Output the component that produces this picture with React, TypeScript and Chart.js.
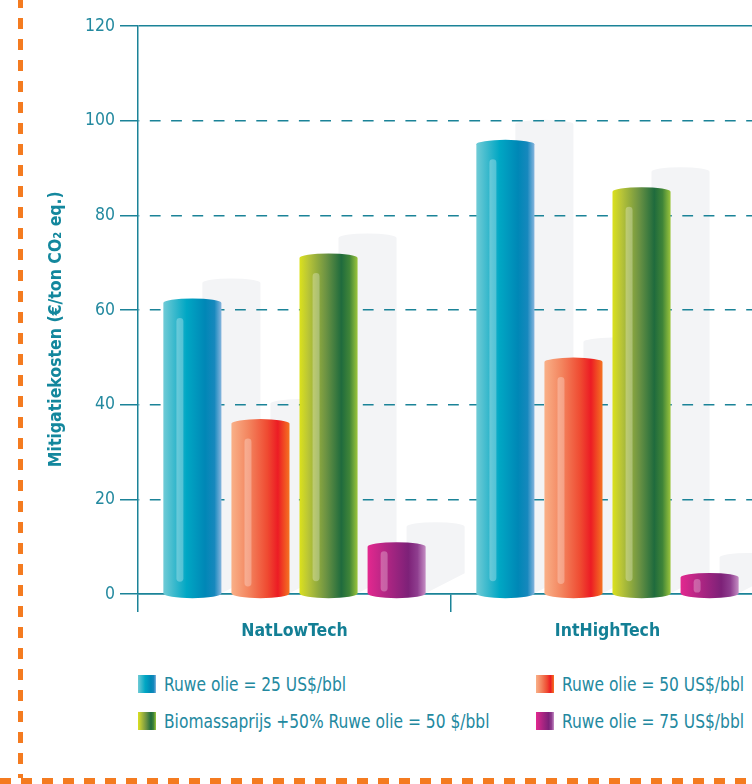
import React, { useEffect, useRef } from 'react';
import { Chart, registerables } from 'chart.js';

Chart.register(...registerables);

// ---------- data ----------
const categories = ['NatLowTech', 'IntHighTech'];
const seriesNames = [
  'Ruwe olie = 25 US$/bbl',
  'Ruwe olie = 50 US$/bbl',
  'Biomassaprijs +50% Ruwe olie = 50 $/bbl',
  'Ruwe olie = 75 US$/bbl',
];
const ruweOlie25 = [61.5, 95];
const ruweOlie50 = [36, 49];
const biomassa50 = [71, 85];
const ruweOlie75 = [10, 3.5];
const yMin = 0;
const yMax = 120;
const yStep = 20;
const yTitle = 'Mitigatiekosten (€/ton CO₂ eq.)';

// ---------- styles ----------
const FONT = "'DejaVu Sans Condensed', 'DejaVu Sans', sans-serif";
const AXIS = '#1b8398';
const TEXT = '#23899f';
const SHADOW = '#f3f4f6';
const ORANGE = '#f47b20';
const GRADS: [number, string][][] = [
  [[0, '#70cbd6'], [0.18, '#3dbacd'], [0.4, '#00a7c4'], [0.72, '#0087b6'], [0.88, '#1688bd'], [1, '#86b5de']],
  [[0, '#f9b088'], [0.3, '#f3845e'], [0.62, '#ef4a31'], [0.8, '#ec1c24'], [1, '#f47422']],
  [[0, '#dbe11c'], [0.15, '#b9c537'], [0.45, '#6e9443'], [0.72, '#1f6b3d'], [0.86, '#3f8438'], [1, '#9cc53c']],
  [[0, '#e3288f'], [0.3, '#b42684'], [0.7, '#7d2178'], [0.86, '#8f3e8f'], [1, '#c58ec4']],
];
const SHADOW_DX = 39;
const SHADOW_DY = -20;
const TOP_RY = 4.5;
const BOT_RY = 5;

function cssGrad(stops: [number, string][]) {
  return 'linear-gradient(to right, ' + stops.map(([p, c]) => `${c} ${p * 100}%`).join(', ') + ')';
}

function barProps(el: any) {
  return el.getProps(['x', 'y', 'base', 'width'], true);
}

const cylinderPlugin = {
  id: 'cylinders',
  beforeDraw(chart: any) {
    const ctx = chart.ctx as CanvasRenderingContext2D;
    ctx.save();
    ctx.fillStyle = SHADOW;
    chart.data.datasets.forEach((_: any, di: number) => {
      const meta = chart.getDatasetMeta(di);
      meta.data.forEach((el: any) => {
        const { x, y, base, width } = barProps(el);
        const l = x - width / 2;
        const r = x + width / 2;
        const top = y + SHADOW_DY;
        ctx.beginPath();
        ctx.moveTo(l + SHADOW_DX, top);
        ctx.ellipse(x + SHADOW_DX, top, width / 2, TOP_RY, 0, Math.PI, 2 * Math.PI, false);
        ctx.lineTo(r + SHADOW_DX, base + SHADOW_DY);
        ctx.lineTo(r, base);
        ctx.lineTo(l + SHADOW_DX, base);
        ctx.closePath();
        ctx.fill();
      });
    });
    ctx.restore();
  },
  afterDatasetsDraw(chart: any) {
    const ctx = chart.ctx as CanvasRenderingContext2D;
    ctx.save();
    chart.data.datasets.forEach((_: any, di: number) => {
      const meta = chart.getDatasetMeta(di);
      meta.data.forEach((el: any) => {
        const { x, y, base, width } = barProps(el);
        const l = x - width / 2;
        const r = x + width / 2;
        const g = ctx.createLinearGradient(l, 0, r, 0);
        GRADS[di].forEach(([p, c]) => g.addColorStop(p, c));
        ctx.fillStyle = g;
        ctx.beginPath();
        ctx.moveTo(l, base);
        ctx.lineTo(l, y);
        ctx.ellipse(x, y, width / 2, TOP_RY, 0, Math.PI, 2 * Math.PI, false);
        ctx.lineTo(r, base);
        ctx.ellipse(x, base, width / 2, BOT_RY, 0, 0, Math.PI, false);
        ctx.closePath();
        ctx.fill();
        // highlight
        const h = base - y;
        const t = y + Math.min(15, h * 0.1);
        const b = base - Math.min(12, h * 0.04);
        const hw = width * 0.12;
        const hx = l + width * 0.225;
        if (b - t > 2) {
          ctx.fillStyle = 'rgba(255,255,255,0.28)';
          ctx.beginPath();
          const rr = hw / 2;
          ctx.moveTo(hx, t + rr);
          ctx.arc(hx + rr, t + rr, rr, Math.PI, 2 * Math.PI);
          ctx.lineTo(hx + hw, b - rr);
          ctx.arc(hx + rr, b - rr, rr, 0, Math.PI);
          ctx.closePath();
          ctx.fill();
        }
      });
    });
    ctx.restore();
  },
};

const legendPos = [
  { left: 138, top: 675 },
  { left: 536, top: 675 },
  { left: 138, top: 712 },
  { left: 536, top: 712 },
];

export default function App() {
  const ref = useRef<HTMLCanvasElement>(null);
  useEffect(() => {
    const canvas = ref.current!;
    const series = [ruweOlie25, ruweOlie50, biomassa50, ruweOlie75];
    const chart = new Chart(canvas, {
      type: 'bar',
      data: {
        labels: categories,
        datasets: series.map((d, i) => ({
          label: seriesNames[i],
          data: d,
          backgroundColor: 'rgba(0,0,0,0)',
          borderWidth: 0,
          categoryPercentage: 0.87,
          barPercentage: 0.853,
        })),
      },
      options: {
        responsive: false,
        animation: false,
        devicePixelRatio: 1,
        layout: { padding: { top: 26, left: 0, right: 0, bottom: 0 } },
        plugins: { legend: { display: false }, tooltip: { enabled: false } },
        scales: {
          x: {
            type: 'category',
            offset: true,
            grid: {
              offset: true,
              drawOnChartArea: false,
              drawTicks: true,
              tickLength: 18,
              color: AXIS,
              lineWidth: 1.5,
            },
            border: { display: true, color: AXIS, width: 1.5 },
            ticks: {
              color: '#137f95',
              font: { family: FONT, size: 17.5, weight: 'bold' },
              padding: 9,
            },
            afterFit: (s: any) => {
              s.height = 56;
            },
          },
          y: {
            min: yMin,
            max: yMax,
            ticks: {
              stepSize: yStep,
              color: TEXT,
              font: { family: FONT, size: 17.5 },
              padding: 5,
            },
            grid: {
              color: AXIS,
              lineWidth: 1.5,
              drawTicks: true,
              tickLength: 18,
              tickBorderDash: [],
            },
            border: {
              display: true,
              color: AXIS,
              width: 1.5,
              dash: (ctx: any) => {
                const v = ctx.tick ? ctx.tick.value : null;
                return v === yMax || v === yMin || v === null ? [] : [10.8, 10.5];
              },
              dashOffset: 10,
            },
            title: {
              display: true,
              text: yTitle + '       ',
              color: '#13879d',
              font: { family: FONT, size: 17.5, weight: 'bold' },
              padding: { top: 46, bottom: 0 },
            },
            afterFit: (s: any) => {
              s.width = 138;
            },
          },
        },
      } as any,
      plugins: [cylinderPlugin],
    });
    return () => chart.destroy();
  }, []);

  return (
    <div
      style={{
        position: 'fixed',
        left: 0,
        top: 0,
        width: 752,
        height: 784,
        overflow: 'hidden',
        background: '#ffffff',
      }}
    >
      <canvas
        ref={ref}
        width={764}
        height={650}
        style={{ position: 'absolute', left: 0, top: 0, width: 764, height: 650 }}
      />
      {seriesNames.map((name, i) => (
        <div
          key={name}
          style={{
            position: 'absolute',
            left: legendPos[i].left,
            top: legendPos[i].top,
            height: 18,
            display: 'flex',
            alignItems: 'center',
            whiteSpace: 'nowrap',
          }}
        >
          <div style={{ width: 18, height: 18, background: cssGrad(GRADS[i]), marginRight: 8, flex: 'none' }} />
          <span
            style={{
              fontFamily: FONT,
              fontSize: 20,
              color: TEXT,
              lineHeight: '18px',
              display: 'inline-block',
              transform: 'scaleX(0.86)',
              transformOrigin: 'left center',
            }}
          >
            {name}
          </span>
        </div>
      ))}
      <div
        style={{
          position: 'absolute',
          left: 18,
          top: -3,
          width: 5,
          height: 781,
          backgroundImage: `repeating-linear-gradient(to bottom, ${ORANGE} 0px, ${ORANGE} 11px, transparent 11px, transparent 21px)`,
        }}
      />
      <div
        style={{
          position: 'absolute',
          left: 0,
          top: 778,
          width: 752,
          height: 6,
          backgroundImage: `repeating-linear-gradient(to right, ${ORANGE} 0px, ${ORANGE} 11px, transparent 11px, transparent 21px)`,
        }}
      />
    </div>
  );
}
